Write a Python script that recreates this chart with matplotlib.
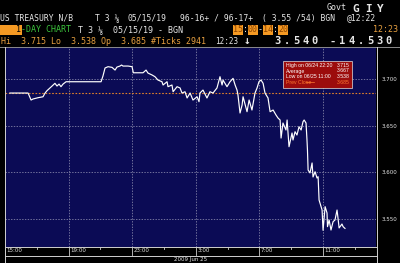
import matplotlib
matplotlib.use('Agg')
import matplotlib.pyplot as plt
from matplotlib.patches import Rectangle
from matplotlib.lines import Line2D

# hours after 15:00 on 06/24 and the yield traded at that time
hours = [0.31, 1.45, 1.64, 1.76, 2.08, 2.39, 2.52, 2.64, 2.96, 3.14, 3.27, 3.40, 3.52, 3.65, 3.84,
         6.04, 6.16, 6.29, 6.48, 6.73, 6.92, 7.04, 7.23, 7.33, 7.42, 7.74, 7.99, 8.07, 8.68, 8.87,
         8.99, 9.25, 9.43, 9.62, 9.87, 9.94, 10.19, 10.25, 10.50, 10.57, 10.82, 11.01, 11.13, 11.32,
         11.45, 11.64, 11.82, 12.08, 12.20, 12.26, 12.45, 12.70, 12.89, 13.08, 13.33, 13.52, 13.65,
         13.71, 13.96, 14.15, 14.34, 14.47, 14.59, 14.65, 14.78, 14.91, 14.97, 15.22, 15.35, 15.53,
         15.72, 15.85, 15.97, 16.10, 16.23, 16.35, 16.54, 16.67, 16.86, 17.04, 17.17, 17.30, 17.36,
         17.48, 17.67, 17.74, 17.86, 18.05, 18.11, 18.24, 18.36, 18.49, 18.62, 18.74, 18.81, 18.93,
         18.99, 19.02, 19.06, 19.18, 19.31, 19.37, 19.50, 19.62, 19.69, 19.75, 19.94, 20.00, 20.13,
         20.25, 20.28, 20.38, 20.50, 20.63, 20.75, 20.88, 20.94, 21.01, 21.19, 21.26, 21.38]
yields = [3.685, 3.685, 3.6775, 3.6786, 3.680, 3.681, 3.685, 3.6875, 3.6925, 3.6954, 3.6925, 3.6946,
          3.6918, 3.6946, 3.6971, 3.6971, 3.7032, 3.7118, 3.7132, 3.7125, 3.7096, 3.7128, 3.7139,
          3.715, 3.7139, 3.7139, 3.7132, 3.7067, 3.7067, 3.7096, 3.7064, 3.7043, 3.7025, 3.6989,
          3.6971, 3.6936, 3.6971, 3.6918, 3.6936, 3.6864, 3.6918, 3.6904, 3.685, 3.6864, 3.6797,
          3.685, 3.6775, 3.681, 3.6757, 3.685, 3.6882, 3.6797, 3.6864, 3.685, 3.6904, 3.7025,
          3.6936, 3.6989, 3.6918, 3.6971, 3.7007, 3.6936, 3.6882, 3.6829, 3.6636, 3.6722, 3.681,
          3.665, 3.6775, 3.6668, 3.685, 3.6904, 3.6971, 3.6989, 3.6954, 3.685, 3.6797, 3.665,
          3.6668, 3.6615, 3.6582, 3.6561, 3.6368, 3.6529, 3.6454, 3.6561, 3.6275, 3.6422, 3.6347,
          3.6436, 3.640, 3.6489, 3.6454, 3.6543, 3.6561, 3.6529, 3.6347, 3.624, 3.6026, 3.5994,
          3.6101, 3.5951, 3.6007, 3.594, 3.5954, 3.5704, 3.5597, 3.538, 3.5633, 3.5565, 3.5419,
          3.549, 3.5383, 3.5472, 3.549, 3.5597, 3.5512, 3.5405, 3.5447, 3.5419, 3.540]

prev_close = 3.685
stats_labels = ['High on 06/24 22:20', 'Average', 'Low on 06/25 11:00']
stats_values = ['3.715', '3.667', '3.538']
time_ticks = [0, 4, 8, 12, 16, 20]
time_labels = ['15:00', '19:00', '23:00', '3:00', '7:00', '11:00']
minor_ticks = [2, 6, 10, 14, 18, 22]
yield_ticks = [3.55, 3.60, 3.65, 3.70]
yield_labels = ['3.550', '3.600', '3.650', '3.700']

W, H = 400, 263
fig = plt.figure(figsize=(4, 2.63), dpi=100, facecolor='black')


def fx(x):
    return x / W


def fy(y):
    return 1 - y / H


mono = ['DejaVu Sans Mono', 'DejaVu Sans']
narrow = ['Liberation Sans Narrow', 'Liberation Sans', 'DejaVu Sans']
white = '#e6e6e6'
amber = '#e8a040'
box_orange = '#f59a23'

# chart panel
ax = fig.add_axes([fx(5), fy(247), (376 - 5) / W, 200 / H])
ax.set_facecolor('#0b0b55')
ax.set_xlim(0, 23.33)
ax.set_ylim(3.5201, 3.7343)
for v in time_ticks[1:]:
    ax.axvline(v, color='#9a9ab8', lw=0.5, ls=(0, (2, 2)), zorder=1)
for v in yield_ticks:
    ax.axhline(v, color='#9a9ab8', lw=0.5, ls=(0, (2, 2)), zorder=1)
ax.axhline(prev_close, color='#e0802a', lw=0.8, ls=(0, (1.5, 1.5)), zorder=2)
ax.plot(hours, yields, color='white', lw=0.85, zorder=3)
for s in ax.spines.values():
    s.set_visible(False)
ax.set_xticks([])
ax.yaxis.tick_right()
ax.set_yticks(yield_ticks)
ax.set_yticklabels(yield_labels, fontsize=4, color=white)
ax.tick_params(axis='y', length=0, pad=4)

# time axis band
tr = ax.get_xaxis_transform()
for t, lab in zip(time_ticks, time_labels):
    ax.plot([t, t], [0, -0.04], color='#d0d0d0', lw=0.6, transform=tr, clip_on=False)
    ax.text(t + 0.08, -0.02, lab, transform=tr, fontsize=4, color=white, ha='left', va='center')
for t in minor_ticks:
    ax.plot([t, t], [0, -0.008], color='#d0d0d0', lw=0.6, transform=tr, clip_on=False)
fig.text(fx(174), fy(259.5), '2009 Jun 25', fontsize=4, color=white, va='center')

# frame lines
frame = [((0, 400), (47.5, 47.5), '#8c8c8c'),
         ((4.5, 4.5), (47.5, 263), '#d0d0d0'),
         ((377, 377), (47.5, 263), '#d0d0d0'),
         ((4.5, 377), (247, 247), '#d0d0d0'),
         ((4.5, 377), (255.5, 255.5), '#d0d0d0')]
for xs, ys, c in frame:
    fig.add_artist(Line2D([fx(xs[0]), fx(xs[1])], [fy(ys[0]), fy(ys[1])], color=c, lw=0.7))

# legend box
fig.add_artist(Rectangle((fx(283), fy(88)), 69 / W, 27 / H, facecolor='#9c0c0c',
                         edgecolor='#e0e0e0', lw=0.5))
for i, (lab, val) in enumerate(zip(stats_labels, stats_values)):
    yy = 65.5 + i * 5.5
    fig.text(fx(286), fy(yy), lab, fontsize=3.7, color='white', va='center', family=narrow)
    fig.text(fx(350), fy(yy), val, fontsize=3.7, color='white', va='center', ha='right',
             family=narrow)
fig.text(fx(286), fy(82), 'Prev Close', fontsize=3.7, color='#ff7a30', va='center', family=narrow)
fig.add_artist(Line2D([fx(306), fx(314)], [fy(82), fy(82)], color='#ff7a30', lw=0.5))
fig.text(fx(350), fy(82), '3.685', fontsize=3.7, color='#ff7a30', va='center', ha='right',
         family=narrow)

# header row 1
row1 = [(0, 'US TREASURY N/B'), (95, 'T 3 ⅛'), (128, '05/15/19'),
        (180, '96-16+ / 96-17+'), (262, '( 3.55 /54) BGN'), (347, '@12:22')]
for x, s in row1:
    fig.text(fx(x), fy(18), s, fontsize=5.8, color=white, va='center', family=mono)
fig.text(fx(327), fy(8), 'Govt', fontsize=6, color=white, va='center', family=mono)
for i, ch in enumerate('GIY'):
    fig.text(fx(356 + i * 12), fy(8.5), ch, fontsize=8, color=white, va='center', ha='center',
             family=mono, weight='bold')

# header row 2
fig.add_artist(Rectangle((fx(0), fy(35)), 22 / W, 10 / H, facecolor=box_orange, lw=0))
fig.text(fx(16), fy(30), '1', fontsize=6, color='black', va='center', family=mono)
fig.text(fx(21), fy(30), '-DAY CHART', fontsize=6, color='#3cc43c', va='center', family=mono)
fig.text(fx(78), fy(30), 'T 3 ⅛', fontsize=6, color=white, va='center', family=mono)
fig.text(fx(113), fy(30), '05/15/19 - BGN', fontsize=6, color=white, va='center', family=mono)
for x, s in [(233, '15'), (248, '00'), (263, '14'), (278, '20')]:
    fig.add_artist(Rectangle((fx(x), fy(35)), 10 / W, 10 / H, facecolor=box_orange, lw=0))
    fig.text(fx(x), fy(30), s, fontsize=6, color='#8a4200', va='center', family=mono, zorder=5)
for x, s in [(243, ':'), (258, '-'), (273, ':')]:
    fig.text(fx(x), fy(30), s, fontsize=6, color=white, va='center', family=mono)
fig.text(fx(373), fy(30), '12:23', fontsize=6, color=amber, va='center', family=mono)

# header row 3
fig.text(fx(1), fy(41), 'Hi  3.715 Lo  3.538 Op  3.685 #Ticks 2941', fontsize=6, color=amber,
         va='center', family=mono)
fig.text(fx(215), fy(41), '12:23', fontsize=5.5, color=white, va='center', family=mono)
fig.text(fx(244), fy(41), '↓', fontsize=8, color=white, va='center', family=mono, weight='bold')
for i, ch in enumerate('3.540 -14.530'):
    fig.text(fx(277.6 + i * 9.25), fy(41.5), ch, fontsize=7.5, color=white, va='center',
             ha='center', family=mono, weight='bold')

fig.savefig('out.png', dpi=100, facecolor='black')
